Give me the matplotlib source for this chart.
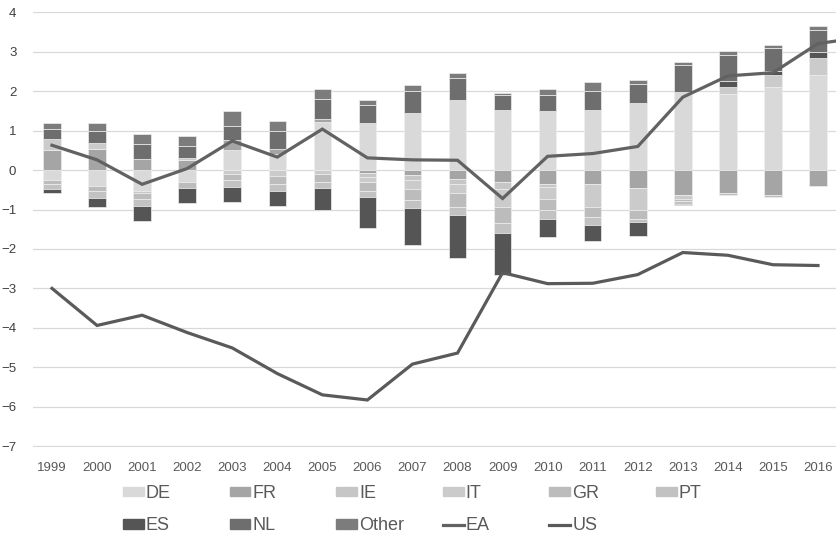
import numpy as np
import matplotlib.pyplot as plt
from matplotlib.patches import Rectangle
from matplotlib.lines import Line2D

plt.rcParams['font.family'] = ['Liberation Sans', 'DejaVu Sans']

# data (% contributions)
years = list(range(1999, 2017))
DE = [-0.24, -0.41, -0.52, -0.29, 0.52, 0.40, 1.22, 1.19, 1.46, 1.79, 1.53, 1.51, 1.52, 1.70, 1.98, 1.92, 2.11, 2.40]
FR = [0.52, 0.53, 0.27, 0.26, 0.25, 0.14, 0.08, -0.07, -0.12, -0.22, -0.30, -0.35, -0.36, -0.46, -0.62, -0.58, -0.62, -0.41]
IE = [0, 0, -0.05, 0, 0, 0, 0, -0.11, -0.12, -0.14, -0.17, -0.08, 0, 0, 0, 0, 0, 0]
IT = [0.28, 0.16, 0, 0.05, -0.11, -0.15, -0.11, -0.12, -0.25, -0.22, -0.47, -0.30, -0.58, -0.56, -0.11, 0.20, 0.31, 0.45]
GR = [-0.11, -0.13, -0.16, -0.17, -0.15, -0.20, -0.18, -0.22, -0.28, -0.36, -0.40, -0.29, -0.25, -0.21, -0.05, -0.06, -0.06, 0]
PT = [-0.12, -0.16, -0.19, 0, -0.17, -0.17, -0.17, -0.17, -0.18, -0.21, -0.25, -0.21, -0.20, -0.09, -0.07, 0, 0, 0]
ES = [-0.12, -0.24, -0.36, -0.38, -0.37, -0.38, -0.56, -0.78, -0.96, -1.07, -1.08, -0.47, -0.42, -0.36, -0.03, 0.14, 0.09, 0.15]
NL = [0.25, 0.30, 0.38, 0.30, 0.35, 0.45, 0.51, 0.45, 0.55, 0.55, 0.37, 0.40, 0.49, 0.49, 0.68, 0.67, 0.59, 0.55]
OTHER = [0.15, 0.21, 0.27, 0.26, 0.39, 0.25, 0.24, 0.13, 0.16, 0.12, 0.06, 0.14, 0.22, 0.10, 0.07, 0.09, 0.07, 0.10]
# EA continues past the right edge (cut off)
EA = [0.63, 0.26, -0.36, 0.04, 0.74, 0.33, 1.04, 0.31, 0.26, 0.25, -0.72, 0.35, 0.42, 0.60, 1.85, 2.39, 2.47, 3.21, 3.37]
US = [-3.0, -3.94, -3.68, -4.12, -4.51, -5.16, -5.70, -5.83, -4.92, -4.64, -2.60, -2.88, -2.87, -2.65, -2.09, -2.16, -2.40, -2.42]

series = [("DE", DE, "#d9d9d9"), ("FR", FR, "#a5a5a5"), ("IE", IE, "#c6c6c6"),
          ("IT", IT, "#cbcbcb"), ("GR", GR, "#bcbcbc"), ("PT", PT, "#c2c2c2"),
          ("ES", ES, "#555555"), ("NL", NL, "#6e6e6e"), ("Other", OTHER, "#7c7c7c")]

fig = plt.figure(figsize=(8.37, 5.42), dpi=100)
ax = fig.add_axes([33/837, 1 - 446.5/542, 1 - 33/837, (446.5 - 12)/542])

x = np.arange(len(years))
pos = np.zeros(len(years))
neg = np.zeros(len(years))
handles = {}
for name, vals, col in series:
    v = np.array(vals, dtype=float)
    bottom = np.where(v >= 0, pos, neg)
    edges = ["#eeeeee" if val != 0 else "none" for val in v]
    ax.bar(x, v, 0.39, bottom=bottom, color=col, edgecolor=edges, linewidth=0.5, zorder=2)
    handles[name] = Rectangle((0, 0), 1, 1, color=col)
    pos += np.where(v > 0, v, 0)
    neg += np.where(v < 0, v, 0)

ax.plot(np.arange(len(EA)), EA, color="#626262", lw=2.3, zorder=3, solid_joinstyle="miter")
ax.plot(x, US, color="#5a5a5a", lw=2.3, zorder=3, solid_joinstyle="miter")
handles["EA"] = Line2D([], [], color="#626262", lw=2.3)
handles["US"] = Line2D([], [], color="#5a5a5a", lw=2.3)

ax.set_xlim(-19/45.06, 17 + 19/45.06)
ax.set_ylim(-7.01, 4.01)
ax.set_yticks(range(-7, 5))
ax.set_xticks(x)
ax.set_xticklabels(years)
ax.grid(axis="y", color="#d9d9d9", lw=0.9, zorder=0)
ax.set_axisbelow(True)
for s in ax.spines.values():
    s.set_visible(False)
ax.tick_params(axis="y", length=0, pad=12, labelsize=9.5, labelcolor="#404040")
ax.tick_params(axis="x", length=0, pad=11, labelsize=9.5, labelcolor="#595959")

# legend: 6 columns, 2 rows, evenly spaced like the original
cols = [["DE", "ES"], ["FR", "NL"], ["IE", "Other"], ["IT", "EA"], ["GR", "US"], ["PT"]]
for i, names in enumerate(cols):
    fig.legend([handles[n] for n in names], names,
               loc="upper left", bbox_to_anchor=((123 + i * 106.6) / 837, 1 - 485/542),
               frameon=False, fontsize=13, handlelength=1.15, handleheight=0.45,
               handletextpad=0.12, labelspacing=0.85, borderpad=0, borderaxespad=0,
               labelcolor="#595959")

fig.savefig("out.png", dpi=100)
